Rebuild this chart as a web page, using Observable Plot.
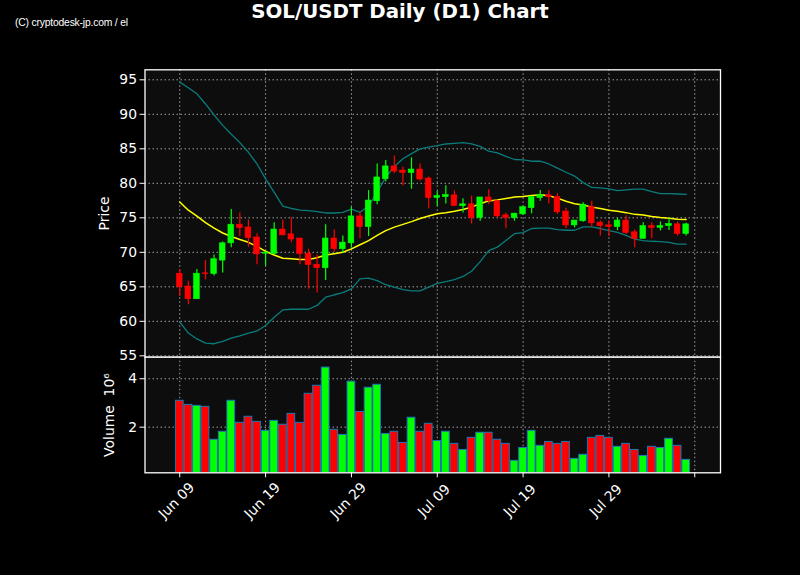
<!DOCTYPE html>
<html>
<head>
<meta charset="utf-8">
<script src="https://cdn.jsdelivr.net/npm/d3@7"></script>
<script src="https://cdn.jsdelivr.net/npm/@observablehq/plot@0.6"></script>
<style>
html, body { margin: 0; padding: 0; background: #000; }
#wrap { position: relative; width: 800px; height: 575px; background: #000; overflow: hidden; }
#wrap svg { position: absolute; left: 0; top: 0; }
.title { position: absolute; left: 0; top: 0.1px; width: 800px; text-align: center; font: bold 19.8px/1.164 "DejaVu Sans", sans-serif; color: #fff; }
.copy { position: absolute; left: 15px; top: 16.5px; font: 11px/11px "Liberation Sans Narrow", "Liberation Sans", sans-serif; color: #fff; white-space: pre; transform: scaleX(0.94); transform-origin: 0 0; letter-spacing: -0.2px; }
</style>
</head>
<body>
<div id="wrap">
  <div class="title">SOL/USDT Daily (D1) Chart</div>
  <div class="copy">(C) cryptodesk-jp.com / el</div>
</div>
<script>
// ---- data ----
const dates = [
  "2024-06-09","2024-06-10","2024-06-11","2024-06-12","2024-06-13","2024-06-14","2024-06-15","2024-06-16","2024-06-17","2024-06-18",
  "2024-06-19","2024-06-20","2024-06-21","2024-06-22","2024-06-23","2024-06-24","2024-06-25","2024-06-26","2024-06-27","2024-06-28",
  "2024-06-29","2024-06-30","2024-07-01","2024-07-02","2024-07-03","2024-07-04","2024-07-05","2024-07-06","2024-07-07","2024-07-08",
  "2024-07-09","2024-07-10","2024-07-11","2024-07-12","2024-07-13","2024-07-14","2024-07-15","2024-07-16","2024-07-17","2024-07-18",
  "2024-07-19","2024-07-20","2024-07-21","2024-07-22","2024-07-23","2024-07-24","2024-07-25","2024-07-26","2024-07-27","2024-07-28",
  "2024-07-29","2024-07-30","2024-07-31","2024-08-01","2024-08-02","2024-08-03","2024-08-04","2024-08-05","2024-08-06","2024-08-07"
];
const open = [
  66.9, 65.05, 63.2, 66.95, 66.85, 68.8, 71.3, 74.0, 73.6, 72.15,
  69.8, 69.75, 73.3, 72.6, 72.0, 69.8, 68.2, 67.7, 72.0, 70.45,
  71.3, 75.2, 73.65, 77.4, 80.6, 82.45, 81.85, 81.5, 82.0, 80.7,
  77.9, 78.0, 78.25, 76.7, 76.95, 75.0, 77.95, 77.4, 75.35, 74.95,
  75.5, 76.4, 77.85, 78.25, 78.0, 75.9, 73.9, 74.5, 76.55, 74.3,
  73.9, 73.65, 74.6, 72.9, 71.95, 73.8, 73.55, 73.8, 74.05, 72.65
];
const high = [
  67.5, 65.8, 67.5, 68.8, 69.6, 71.5, 76.2, 75.7, 74.7, 72.7,
  70.05, 74.3, 74.7, 75.0, 72.0, 70.45, 69.6, 74.0, 73.25, 72.35,
  76.55, 75.8, 78.95, 82.8, 83.3, 83.95, 82.35, 83.7, 82.8, 80.9,
  78.8, 79.65, 78.9, 77.75, 78.15, 77.95, 79.05, 77.4, 75.7, 75.65,
  76.7, 78.0, 78.95, 78.95, 78.5, 76.4, 74.6, 77.2, 77.4, 74.55,
  74.55, 74.95, 75.3, 73.25, 74.3, 74.3, 74.4, 74.9, 74.4, 74.2
];
const low = [
  63.6, 62.4, 63.2, 66.0, 66.55, 67.0, 70.65, 72.3, 70.75, 68.2,
  67.95, 69.75, 72.45, 71.4, 68.2, 64.65, 64.1, 65.9, 70.0, 69.9,
  70.6, 71.95, 72.3, 76.9, 80.2, 81.4, 79.6, 79.15, 80.3, 76.3,
  76.65, 77.0, 76.7, 75.7, 74.1, 74.5, 76.9, 75.0, 73.4, 74.5,
  75.35, 75.6, 77.4, 77.0, 75.5, 73.4, 73.55, 74.35, 73.65, 72.35,
  72.3, 73.15, 72.6, 70.65, 71.95, 71.95, 73.1, 73.15, 72.35, 72.35
];
const close = [
  64.95, 63.2, 66.9, 66.85, 69.0, 71.3, 74.0, 73.5, 72.05, 69.7,
  69.95, 73.3, 72.45, 71.85, 69.75, 68.15, 67.7, 72.0, 70.45, 71.4,
  75.2, 73.65, 77.5, 80.85, 82.45, 81.7, 81.5, 82.0, 80.55, 77.85,
  78.15, 78.3, 76.7, 76.95, 75.0, 77.95, 77.4, 75.2, 75.0, 75.6,
  76.55, 78.0, 78.3, 78.0, 75.8, 73.9, 74.6, 76.9, 74.2, 73.8,
  73.7, 74.6, 72.8, 71.95, 73.8, 73.55, 73.8, 74.1, 72.65, 74.05
];
const volumeM = [
  3.09, 2.92, 2.88, 2.84, 1.48, 1.81, 3.09, 2.18, 2.43, 2.22,
  1.85, 2.26, 2.10, 2.55, 2.18, 3.38, 3.71, 4.46, 1.89, 1.68,
  3.88, 2.63, 3.63, 3.75, 1.72, 1.81, 1.35, 2.39, 1.81, 2.14,
  1.43, 1.81, 1.31, 1.06, 1.56, 1.77, 1.77, 1.48, 1.31, 0.61,
  1.14, 1.85, 1.23, 1.39, 1.31, 1.39, 0.69, 0.86, 1.56, 1.64,
  1.56, 1.19, 1.31, 1.06, 0.81, 1.19, 1.14, 1.52, 1.23, 0.65
];
const bbUpper = [
  94.66, 93.85, 92.97, 91.5, 89.9, 88.4, 87.1, 85.9, 84.5, 82.8,
  80.65, 78.7, 76.7, 76.35, 76.1, 76.05, 75.9, 75.7, 75.7, 75.8,
  76.25, 75.8, 76.7, 78.7, 80.9, 82.45, 83.55, 84.3, 85.0, 85.25,
  85.45, 85.7, 85.8, 85.9, 85.7, 85.35, 84.65, 84.4, 83.9, 83.45,
  83.4, 83.2, 83.2, 82.8, 82.2, 81.6, 81.05, 80.1, 79.4, 79.35,
  79.2, 78.95, 79.05, 79.15, 79.15, 78.8, 78.5, 78.5, 78.45, 78.4
];
const bbMiddle = [
  77.3, 76.1, 75.25, 74.3, 73.5, 72.8, 72.3, 71.85, 71.45, 70.85,
  70.15, 69.6, 69.15, 69.05, 68.95, 68.95, 69.2, 69.6, 69.8, 70.0,
  70.5, 71.1, 71.7, 72.45, 73.15, 73.65, 74.05, 74.45, 74.9, 75.25,
  75.6, 75.75, 75.95, 76.2, 76.55, 77.05, 77.45, 77.6, 77.8, 78.0,
  78.1, 78.25, 78.35, 78.2, 77.85, 77.4, 77.05, 76.85, 76.55, 76.35,
  76.1, 75.95, 75.75, 75.5, 75.4, 75.2, 75.05, 74.95, 74.8, 74.75
];
const bbLower = [
  59.9, 58.3, 57.45, 56.85, 56.75, 57.1, 57.55, 57.9, 58.3, 58.6,
  59.4, 60.6, 61.65, 61.75, 61.75, 61.75, 62.3, 63.5, 63.85, 64.15,
  64.7, 66.15, 66.25, 65.9, 65.3, 64.95, 64.6, 64.4, 64.4, 64.95,
  65.5, 65.75, 66.05, 66.5, 67.25, 68.65, 70.25, 70.75, 71.7, 72.7,
  72.85, 73.45, 73.5, 73.5, 73.3, 73.2, 73.2, 73.7, 73.7, 73.45,
  73.15, 72.9, 72.45, 71.9, 71.7, 71.6, 71.55, 71.45, 71.2, 71.2
];
const xTickDates = ["2024-06-09","2024-06-19","2024-06-29","2024-07-09","2024-07-19","2024-07-29","2024-08-08"];
const xTickLabels = ["Jun 09","Jun 19","Jun 29","Jul 09","Jul 19","Jul 29",""];
const priceTicks = [55, 60, 65, 70, 75, 80, 85, 90, 95];
const volumeTicks = [2e6, 4e6];
const volumeTickLabels = ["2", "4"];

// ---- build ----
const parse = d3.utcParse("%Y-%m-%d");
const DAY = 864e5;
const rows = dates.map((d, i) => ({
  date: parse(d), open: open[i], high: high[i], low: low[i], close: close[i],
  volume: volumeM[i] * 1e6, upper: bbUpper[i], middle: bbMiddle[i], lower: bbLower[i]
}));
const UP = "#00ff00", DOWN = "#ff0000";
const col = d => d.close >= d.open ? UP : DOWN;
const tDates = xTickDates.map(parse);
const tickRows = tDates.map((d, i) => ({date: d, label: xTickLabels[i]})).filter(d => d.label);
const vLabel = new Map(volumeTicks.map((v, i) => [v, volumeTickLabels[i]]));
const xDomain = [new Date(+rows[0].date - 4.05 * DAY), new Date(+rows[0].date + 63.0 * DAY)];

const ML = 144.5, MR = 80;
const gridStyle = {stroke: "#b8b8b8", strokeOpacity: 0.85, strokeWidth: 1, strokeDasharray: "1.5,2.5"};
const baseStyle = {background: "transparent", color: "#fff", fontFamily: "DejaVu Sans, sans-serif", fontSize: "13.9px", overflow: "visible"};

const price = Plot.plot({
  width: 800, height: 357, marginTop: 69.3, marginBottom: 0.3, marginLeft: ML, marginRight: MR,
  style: baseStyle,
  x: {type: "utc", domain: xDomain, axis: null},
  y: {domain: [54.8, 96.45], axis: null},
  color: {type: "identity"},
  marks: [
    Plot.frame({fill: "#0d0d0d"}),
    Plot.gridX(tDates, gridStyle),
    Plot.gridY(priceTicks, gridStyle),
    Plot.line(rows, {x: "date", y: "upper", stroke: "#0a7c7c", strokeWidth: 1.3}),
    Plot.line(rows, {x: "date", y: "lower", stroke: "#0a7c7c", strokeWidth: 1.3}),
    Plot.line(rows, {x: "date", y: "middle", stroke: "#ffff00", strokeWidth: 1.5}),
    Plot.ruleX(rows, {x: "date", y1: "low", y2: "high", stroke: col, strokeWidth: 1.2}),
    Plot.rect(rows, {
      x1: d => new Date(+d.date - 0.33 * DAY), x2: d => new Date(+d.date + 0.33 * DAY),
      y1: "open", y2: "close", fill: col, stroke: col, strokeWidth: 0.6
    }),
    Plot.axisY(priceTicks, {anchor: "left", tickSize: 5, tickPadding: 3, label: null, fill: "#fff", stroke: "#fff"}),
    Plot.text(["Price"], {frameAnchor: "left", textAnchor: "middle", dx: -40.5, rotate: -90, fill: "#fff"}),
    Plot.frame({stroke: "#fff", strokeWidth: 1.3})
  ]
});

const volume = Plot.plot({
  width: 800, height: 575, marginTop: 356.7, marginBottom: 102.7, marginLeft: ML, marginRight: MR,
  style: baseStyle,
  x: {type: "utc", domain: xDomain, axis: null},
  y: {domain: [0.116e6, 4.89e6], axis: null},
  color: {type: "identity"},
  marks: [
    Plot.frame({fill: "#0d0d0d"}),
    Plot.gridX(tDates, gridStyle),
    Plot.gridY(volumeTicks, gridStyle),
    Plot.rect(rows, {
      x1: d => new Date(+d.date - 0.45 * DAY), x2: d => new Date(+d.date + 0.45 * DAY),
      y1: 0, y2: "volume", fill: col, stroke: "#1f77b4", strokeWidth: 1, clip: true
    }),
    Plot.axisY(volumeTicks, {anchor: "left", tickSize: 5, tickPadding: 3, label: null, tickFormat: d => vLabel.get(d), fill: "#fff", stroke: "#fff"}),
    Plot.text(["Volume  10\u2076"], {frameAnchor: "left", textAnchor: "middle", dx: -35.5, rotate: -90, fill: "#fff"}),
    Plot.axisX(tDates, {anchor: "bottom", tickSize: 5, label: null, tickFormat: () => "", stroke: "#fff"}),
    Plot.text(tickRows, {x: "date", text: "label", frameAnchor: "bottom", dy: 31, rotate: -45, textAnchor: "middle", fill: "#fff"}),
    Plot.frame({stroke: "#fff", strokeWidth: 1.3})
  ]
});

const wrap = document.getElementById("wrap");
wrap.appendChild(price);
wrap.appendChild(volume);
</script>
</body>
</html>
